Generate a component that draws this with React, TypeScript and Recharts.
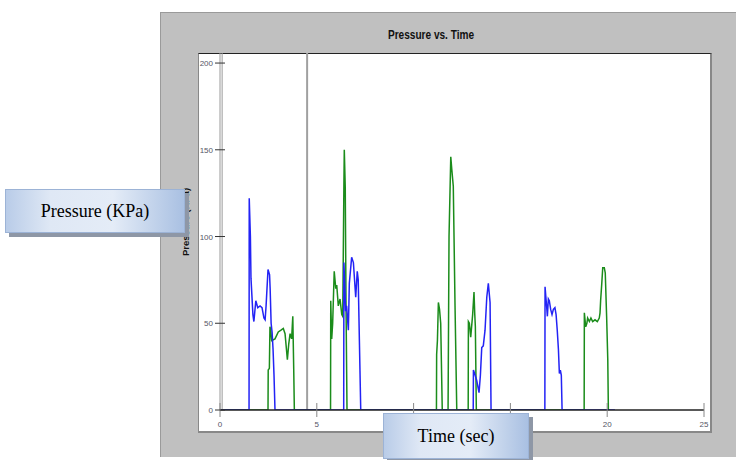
import React from 'react';
import { LineChart, Line, XAxis, YAxis, ReferenceLine } from 'recharts';

// pressure pulses (time in s, pressure in KPa)
const blueTime = [
  0, 1.5, 1.51, 1.57, 1.6, 1.7, 1.75, 1.85, 1.95, 2.07, 2.17, 2.27, 2.33, 2.38, 2.48, 2.56, 2.59, 2.64, 2.69, 2.74, 2.79, 2.84,
  6.39, 6.4, 6.45, 6.49, 6.54, 6.63, 6.68, 6.8, 6.89, 7.01, 7.09, 7.14, 7.2, 7.27,
  13.08, 13.09, 13.18, 13.26, 13.38, 13.45, 13.52, 13.6, 13.69, 13.78, 13.86, 13.95, 14.0,
  16.78, 16.79, 16.84, 16.87, 16.91, 16.96, 17.01, 17.08, 17.15, 17.22, 17.3, 17.36, 17.42, 17.48, 17.53, 17.58, 17.63, 17.67,
  20.4,
];
const bluePressure = [
  0, 0, 122, 100, 76, 55, 51, 63, 59, 60, 59, 53, 52, 60, 81, 78, 70, 50, 45, 35, 20, 0,
  0, 85, 70, 57, 60, 46, 73, 88, 85, 65, 80, 75, 40, 0,
  0, 23, 20, 17, 10, 20, 36, 37, 46, 65, 73, 62, 0,
  0, 71, 64, 60, 54, 64, 63, 58, 55, 58, 59, 55, 46, 35, 21, 23, 20, 0,
  0,
];

const greenTime = [
  0, 2.48, 2.49, 2.55, 2.58, 2.62, 2.67, 2.84, 3.01, 3.15, 3.27, 3.36, 3.48, 3.55, 3.62, 3.7, 3.76, 3.81, 3.84,
  5.71, 5.72, 5.77, 5.82, 5.9, 5.98, 6.03, 6.11, 6.2, 6.29, 6.34, 6.4, 6.42, 6.47, 6.51, 6.56,
  11.18, 11.19, 11.23, 11.28, 11.34, 11.4, 11.48,
  11.78, 11.83, 11.92, 11.97, 12.05, 12.14, 12.23,
  12.82, 12.83, 12.88, 12.95, 13.05, 13.12, 13.16, 13.19, 13.24,
  18.81, 18.82, 18.89, 18.95, 18.99, 19.08, 19.16, 19.25, 19.37, 19.49, 19.59, 19.63, 19.66, 19.72, 19.77, 19.85, 19.9, 19.97, 20.03, 20.06,
];
const greenPressure = [
  0, 0, 23, 24, 48, 46, 40, 41, 45, 46, 47, 44, 29, 38, 44, 41, 54, 22, 0,
  0, 63, 41, 50, 80, 70, 72, 60, 64, 55, 54, 130, 150, 128, 60, 0,
  0, 32, 40, 62, 58, 50, 0,
  0, 100, 146, 139, 129, 60, 0,
  0, 51, 50, 42, 55, 68, 55, 48, 0,
  0, 56, 48, 50, 53, 51, 53, 51, 52, 51, 53, 56, 63, 73, 82, 82, 79, 54, 29, 0,
];

const timeTicks = [0, 5, 10, 15, 20, 25];
const pressureTicks = [0, 50, 100, 150, 200];
const markerTime = 4.5;

const blueData = blueTime.map((t, i) => ({ t, p: bluePressure[i] }));
const greenData = greenTime.map((t, i) => ({ t, p: greenPressure[i] }));

const sans = "'Liberation Sans', Arial, sans-serif";
const serif = "'Liberation Serif', 'Times New Roman', serif";

const YTick = (props: any) => {
  const { x, y, payload } = props;
  return (
    <g>
      <line x1={x - 5} x2={x + 5} y1={y} y2={y} stroke="#333" />
      <text x={x - 7} y={y} dy={3} textAnchor="end" fontSize={8} fontFamily={sans} fill="#556">
        {payload.value}
      </text>
    </g>
  );
};

const XTick = (props: any) => {
  const { x, y, payload } = props;
  return (
    <g>
      <line x1={x} x2={x} y1={y - 7} y2={y + 7} stroke="#888" />
      <text x={x} y={y + 17} textAnchor="middle" fontSize={8} fontFamily={sans} fill="#556">
        {payload.value}
      </text>
    </g>
  );
};

const boxStyle: React.CSSProperties = {
  position: 'absolute',
  background: 'linear-gradient(to right, #b9cce8 0%, #dfe8f5 25%, #e4ecf7 60%, #a9c0e2 100%)',
  border: '1px solid #9cb3d6',
  boxShadow: '4px 4px 0 #8e97a6',
  fontFamily: serif,
  fontSize: 18,
  color: '#000',
  display: 'flex',
  alignItems: 'center',
  justifyContent: 'center',
  zIndex: 3,
};

export default function App() {
  return (
    <div style={{ position: 'absolute', left: 0, top: 0, width: 736, height: 460, background: '#fff', overflow: 'hidden' }}>
      <div
        style={{
          position: 'absolute', left: 160, top: 12, width: 576, height: 445, background: '#c0c0c0',
          borderTop: '1px solid #9a9a9a', borderLeft: '1px solid #9a9a9a', boxSizing: 'border-box',
        }}
      />
      <div
        style={{
          position: 'absolute', left: 198, top: 53, width: 514, height: 380, background: '#fff',
          borderTop: '1px solid #222', borderLeft: '1px solid #888', borderRight: '2px solid #888',
          borderBottom: '2px solid #888', boxSizing: 'border-box',
        }}
      />
      <div
        style={{
          position: 'absolute', left: 331, top: 28, width: 200, textAlign: 'center',
          fontFamily: sans, fontWeight: 'bold', fontSize: 12, color: '#111',
          transform: 'scaleX(0.84)',
        }}
      >
        Pressure vs. Time
      </div>
      <div
        style={{
          position: 'absolute', left: 185, top: 222, transform: 'translate(-50%, -50%) rotate(-90deg)',
          fontFamily: sans, fontWeight: 'bold', fontSize: 9.5, color: '#111', whiteSpace: 'nowrap',
        }}
      >
        Pressure (KPa)
      </div>

      <div style={{ position: 'absolute', left: 0, top: 0, zIndex: 2 }}>
        <LineChart width={736} height={460} margin={{ top: 53, right: 32, bottom: 20, left: 180 }}>
          <XAxis
            dataKey="t"
            type="number"
            domain={[0, 25]}
            ticks={timeTicks}
            allowDataOverflow
            height={30}
            tickSize={0}
            tickMargin={0}
            tickLine={false}
            axisLine={{ stroke: '#222', strokeWidth: 1.5 }}
            tick={<XTick />}
            interval={0}
          />
          <YAxis
            dataKey="p"
            type="number"
            domain={[0, 205.8]}
            ticks={pressureTicks}
            allowDataOverflow
            width={40}
            tickSize={0}
            tickMargin={0}
            tickLine={false}
            axisLine={{ stroke: '#999' }}
            tick={<YTick />}
            interval={0}
          />
          <ReferenceLine x={0.11} stroke="#9a9a9a" />
          <ReferenceLine x={markerTime} stroke="#a0a0a0" strokeWidth={2} />
          <Line
            data={greenData}
            dataKey="p"
            type="linear"
            stroke="#1b8c1b"
            strokeWidth={1.5}
            dot={false}
            isAnimationActive={false}
          />
          <Line
            data={blueData}
            dataKey="p"
            type="linear"
            stroke="#2323f5"
            strokeWidth={1.5}
            dot={false}
            isAnimationActive={false}
          />
        </LineChart>
      </div>

      <div style={{ ...boxStyle, left: 5, top: 189, width: 178, height: 42 }}>Pressure (KPa)</div>
      <div style={{ ...boxStyle, left: 383, top: 413, width: 144, height: 44 }}>Time (sec)</div>
    </div>
  );
}
